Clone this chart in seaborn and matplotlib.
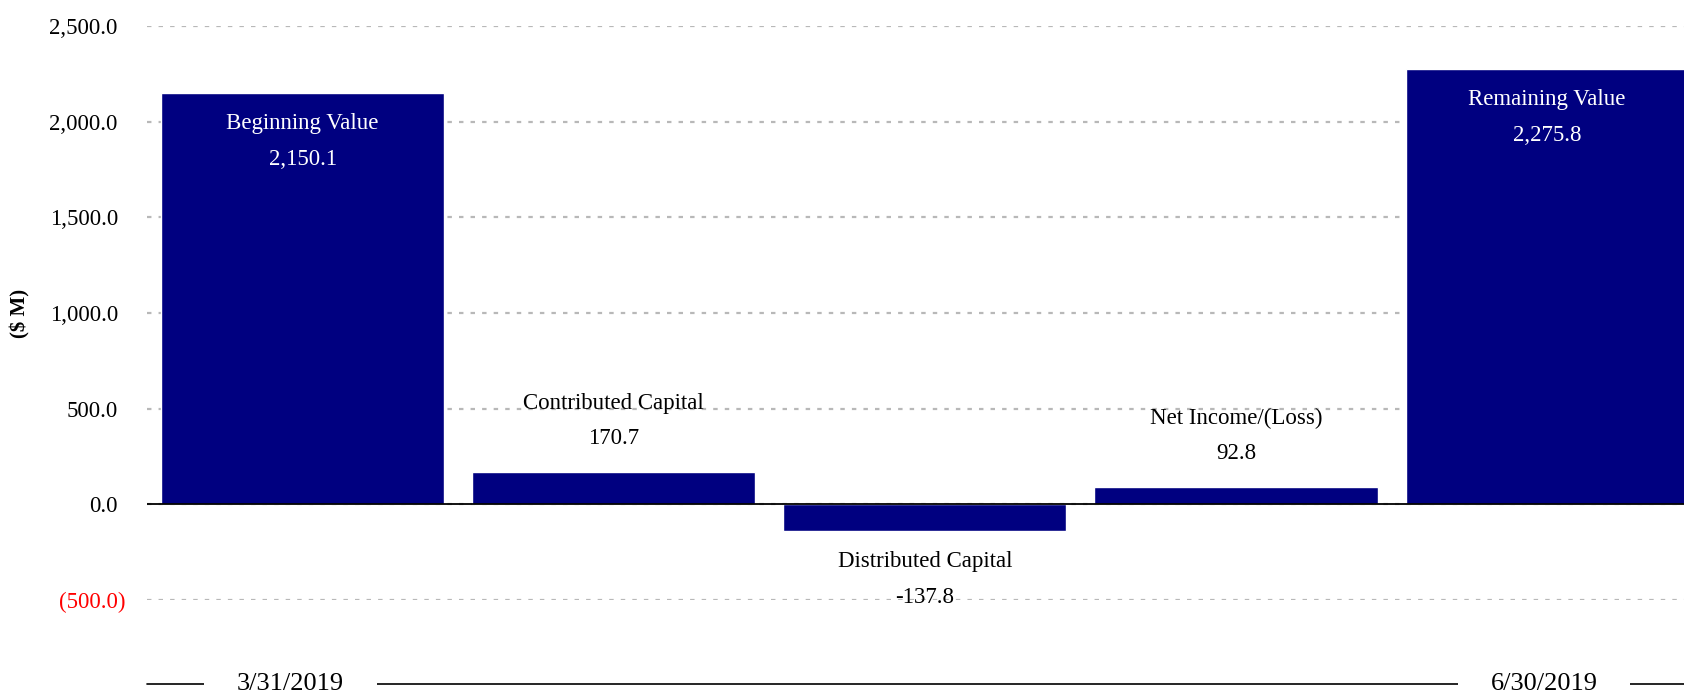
"""
plot.py — Quarterly value bridge (3/31/2019 → 6/30/2019), $ M.
"""

import matplotlib
matplotlib.use("Agg")
import matplotlib.pyplot as plt
import matplotlib.transforms as mtransforms
import seaborn as sns

# ── Data ──────────────────────────────────────────────────────────────────────
CATEGORIES = ["Beginning Value", "Contributed Capital", "Distributed Capital",
              "Net Income/(Loss)", "Remaining Value"]
VALUES     = [2150.1, 170.7, -137.8, 92.8, 2275.8]
Y_TICKS    = [-500, 0, 500, 1000, 1500, 2000, 2500]
DATES      = ["3/31/2019", "6/30/2019"]

NAVY  = "#000080"
GRID  = "#b8b8b8"
FONT  = ["Liberation Serif", "DejaVu Serif"]

# ── Style ─────────────────────────────────────────────────────────────────────
sns.set_style("white")
plt.rcParams["font.family"] = FONT
plt.rcParams["text.color"] = "black"
plt.rcParams["axes.labelcolor"] = "black"
plt.rcParams["ytick.color"] = "black"

fig = plt.figure(figsize=(16.84, 6.94), dpi=100)
ax = fig.add_axes([147 / 1684, 1 - 600 / 694, 1 - 147 / 1684, (600 - 26) / 694])

sns.barplot(x=CATEGORIES, y=VALUES, color=NAVY, saturation=1, width=0.91, ax=ax)

ax.set_xlim(-0.5, 4.44)
ax.set_ylim(-500, 2500)
ax.set_yticks(Y_TICKS)
ax.set_xticks([])
ax.set_xlabel("")

# ── Grid / spines ─────────────────────────────────────────────────────────────
ax.set_axisbelow(True)
ax.yaxis.grid(True, color=GRID, linewidth=1.6, linestyle=(0, (2.0, 3.2)))
ax.axhline(0, color="black", linewidth=1.3, zorder=3)
for s in ax.spines.values():
    s.set_visible(False)
ax.tick_params(axis="y", length=0, pad=21, labelsize=16.5, labelcolor="black")

labels = []
for t in Y_TICKS:
    labels.append(f"({abs(t):,.1f})" if t < 0 else f"{t:,.1f}")
ax.set_yticklabels(labels)
shift = mtransforms.ScaledTranslation(8 / 100, 0, fig.dpi_scale_trans)
for lab, t in zip(ax.get_yticklabels(), Y_TICKS):
    if t < 0:
        lab.set_color("#ff0000")
        lab.set_transform(lab.get_transform() + shift)

ax.set_ylabel("($ M)", fontsize=15, fontweight="bold", color="black")
ax.yaxis.set_label_coords(-0.076, 0.5)

# ── Bar annotations ───────────────────────────────────────────────────────────
for i, (name, v) in enumerate(zip(CATEGORIES, VALUES)):
    if i in (0, len(VALUES) - 1):
        # big bars: white text inside, below the top
        offs, col = (-22, -48), "white"
    elif v >= 0:
        offs, col = (49, 24), "black"
    else:
        offs, col = (-22, -48), "black"
    ax.annotate(name, (i, v), xytext=(0, offs[0]), textcoords="offset points",
                ha="center", va="center", color=col, fontsize=16.5, zorder=5)
    ax.annotate(f"{v:,.1f}", (i, v), xytext=(0, offs[1]), textcoords="offset points",
                ha="center", va="center", color=col, fontsize=16.5, zorder=5)

# ── Date row under the chart ──────────────────────────────────────────────────
trans = mtransforms.blended_transform_factory(ax.transData, fig.transFigure)
y_row = 1 - 684 / 694
ax.plot([-0.5, 4.6], [y_row, y_row], color="black", linewidth=1.2,
        transform=trans, clip_on=False)
for x, d in zip([-0.04, 3.99], DATES):
    ax.text(x, y_row, d, transform=trans, ha="center", va="center", fontsize=19,
            color="black", clip_on=False,
            bbox=dict(boxstyle="square,pad=1.25", fc="white", ec="none"))

fig.savefig("out.png", dpi=100)
